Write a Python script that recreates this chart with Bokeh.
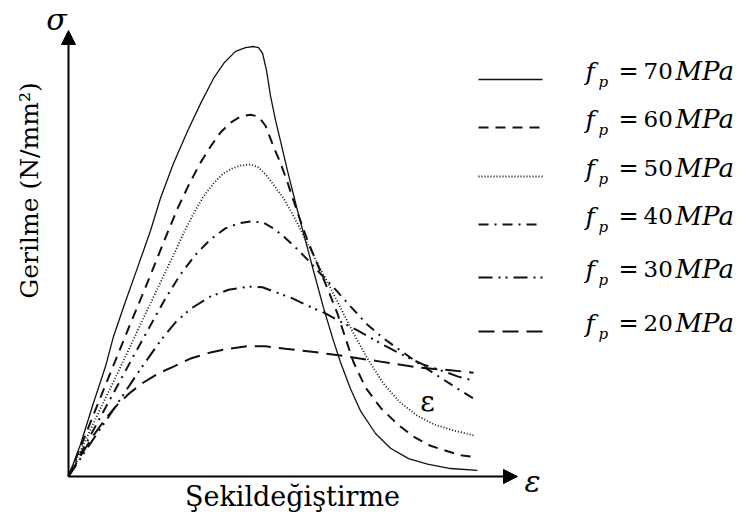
import math
from bokeh.plotting import figure
from bokeh.models import Range1d, Arrow, NormalHead
from bokeh.core.properties import value
from bokeh.embed import file_html
from bokeh.resources import INLINE

# ---------------- data (strain in per mille, stress in MPa) ----------------
strengths = [70, 60, 50, 40, 30, 20]

eps_70 = [0, 0.133, 0.278, 0.411, 0.5, 0.633, 0.767, 0.911, 1.022, 1.167, 1.322, 1.467, 1.611,
          1.733, 1.856, 1.967, 2.056, 2.111, 2.156, 2.2, 2.244, 2.3, 2.367, 2.433, 2.544, 2.633,
          2.722, 2.833, 2.933, 3.022, 3.133, 3.244, 3.411, 3.578, 3.778, 3.989, 4.244, 4.544]
sig_70 = [0, 5.2, 12.0, 17.9, 22.8, 28.5, 34.0, 40.0, 45.3, 51.0, 56.2, 60.7, 64.8,
          67.4, 69.2, 69.8, 70.0, 69.8, 68.9, 66.1, 62.0, 58.0, 53.9, 49.8, 43.3, 38.4,
          33.5, 27.5, 22.6, 18.6, 14.3, 10.7, 7.0, 4.6, 2.9, 2.0, 1.3, 1.0]

eps_60 = [0, 0.189, 0.356, 0.522, 0.689, 0.822, 0.944, 1.078, 1.211, 1.344, 1.467, 1.578, 1.689,
          1.8, 1.911, 2.022, 2.111, 2.189, 2.278, 2.356, 2.433, 2.544, 2.656, 2.767, 2.878,
          2.989, 3.078, 3.167, 3.3, 3.467, 3.656, 3.833, 4.022, 4.211, 4.378, 4.544]
sig_60 = [0, 6.8, 12.9, 18.9, 24.9, 29.6, 34.0, 38.9, 43.6, 47.7, 51.1, 53.7, 56.0,
          57.6, 58.6, 58.9, 58.6, 57.1, 53.7, 51.0, 47.9, 43.0, 38.4, 34.5, 30.6,
          26.5, 22.5, 18.6, 14.5, 11.2, 8.5, 6.5, 5.0, 4.1, 3.4, 3.1]

eps_50 = [0, 0.189, 0.356, 0.522, 0.689, 0.856, 1.022, 1.156, 1.278, 1.389, 1.5, 1.611, 1.711,
          1.811, 1.911, 2.022, 2.111, 2.189, 2.278, 2.389, 2.467, 2.544, 2.656, 2.767, 2.889,
          3.022, 3.167, 3.322, 3.5, 3.689, 3.878, 4.056, 4.278, 4.5]
sig_50 = [0, 5.9, 11.1, 16.1, 21.3, 26.5, 31.6, 35.7, 39.6, 42.8, 45.6, 47.7, 49.2,
          50.1, 50.6, 50.8, 50.3, 49.2, 47.5, 45.3, 43.3, 41.2, 37.9, 34.7, 31.3,
          27.5, 23.3, 19.2, 15.1, 12.0, 9.9, 8.5, 7.5, 6.7]

eps_40 = [0, 0.244, 0.467, 0.689, 0.911, 1.078, 1.244, 1.411, 1.578, 1.744, 1.889, 2.022, 2.156,
          2.278, 2.389, 2.522, 2.656, 2.8, 2.944, 3.133, 3.322, 3.5, 3.689, 3.911, 4.133,
          4.322, 4.5]
sig_40 = [0, 6.7, 12.7, 18.7, 24.6, 29.0, 32.9, 36.1, 38.6, 40.4, 41.2, 41.5, 41.4,
          40.4, 39.1, 37.3, 35.3, 33.0, 30.8, 27.7, 24.7, 22.5, 20.5, 18.2, 16.1,
          14.3, 12.7]

eps_30 = [0, 0.244, 0.5, 0.767, 1.022, 1.189, 1.356, 1.578, 1.778, 1.989, 2.156, 2.322, 2.489,
          2.656, 2.833, 3.022, 3.211, 3.389, 3.578, 3.767, 3.944, 4.133, 4.322, 4.5]
sig_30 = [0, 5.4, 10.9, 16.8, 22.1, 25.1, 27.3, 29.3, 30.4, 30.9, 30.8, 29.9, 29.0,
          27.8, 26.7, 25.2, 23.8, 22.3, 20.8, 19.4, 18.2, 17.3, 16.3, 15.6]

eps_20 = [0, 0.133, 0.278, 0.411, 0.544, 0.689, 0.833, 1.0, 1.167, 1.356, 1.578, 1.778, 1.989,
          2.189, 2.411, 2.656, 3.022, 3.467, 3.911, 4.244, 4.5]
sig_20 = [0, 3.3, 6.7, 9.4, 11.7, 13.7, 15.3, 16.8, 17.9, 19.2, 20.2, 20.8, 21.2,
          21.2, 20.8, 20.4, 19.7, 18.7, 17.7, 17.3, 16.9]

legend_labels = ["%d" % s for s in strengths]
y_axis_title = "Gerilme (N/mm²)"
x_axis_title = "Şekildeğiştirme"

# ---------------- layout helpers (picture pixel -> data) ----------------
PX_PER_EPS = 90.0
PX_PER_MPA = 430.0 / 70.0
OX, OY = 68.0, 476.0


def X(px):
    return (px - OX) / PX_PER_EPS


def Y(py):
    return (OY - py) / PX_PER_MPA


W, H = 756, 518
p = figure(width=W, height=H, output_backend="svg", toolbar_location=None,
           x_range=Range1d(X(0), X(W)), y_range=Range1d(Y(H), Y(0)),
           x_axis_type=None, y_axis_type=None, min_border=0)
p.outline_line_color = None
p.background_fill_color = "white"
p.border_fill_color = "white"

styles = [
    dict(line_width=1.3, line_dash="solid", line_color="#111111"),
    dict(line_width=2.0, line_dash="10 7", line_color="#111111"),
    dict(line_width=1.8, line_dash="1 2", line_color="#111111"),
    dict(line_width=2.0, line_dash="10 6 2 6", line_color="#111111"),
    dict(line_width=2.0, line_dash="14 6 2 5 2 6", line_color="#111111"),
    dict(line_width=2.0, line_dash="16 8", line_color="#111111"),
]
series = [(eps_70, sig_70), (eps_60, sig_60), (eps_50, sig_50),
          (eps_40, sig_40), (eps_30, sig_30), (eps_20, sig_20)]

for (ex, sy), st in zip(series, styles):
    p.line(ex, sy, **st)

# ---------------- axes with arrows ----------------
p.add_layout(Arrow(end=NormalHead(size=14, fill_color="black", line_color="black"),
                   x_start=0, y_start=0, x_end=0, y_end=Y(30),
                   line_width=2, line_color="black"))
p.add_layout(Arrow(end=NormalHead(size=14, fill_color="black", line_color="black"),
                   x_start=0, y_start=0, x_end=X(517), y_end=0,
                   line_width=2, line_color="black"))

SERIF = "DejaVu Serif"


def put(px, py, txt, size, italic=False, align="center", angle=0.0):
    p.text(x=[X(px)], y=[Y(py)], text=[txt], angle=angle,
           text_font=value(SERIF), text_font_style="italic" if italic else "normal",
           text_font_size=size, text_align=align, text_baseline="middle",
           text_color="black")


put(56, 19, "σ", "30px", italic=True)
put(532, 481, "ε", "30px", italic=True)
put(427, 401, "ε", "28px")
put(292, 496, x_axis_title, "27px")
put(29, 190, y_axis_title, "25px", angle=math.pi / 2)

# ---------------- legend ----------------
row_y = [79, 127, 176, 224, 277, 331]
for st, ry in zip(styles, row_y):
    p.line([X(478), X(542)], [Y(ry), Y(ry)], **st)

n = len(row_y)
p.text(x=[X(585)] * n, y=[Y(r - 8) for r in row_y], text=["f"] * n,
       text_font=value(SERIF), text_font_style="italic", text_font_size="25px",
       text_baseline="middle", text_align="left", text_color="black")
p.text(x=[X(598)] * n, y=[Y(r + 2) for r in row_y], text=["p"] * n,
       text_font=value(SERIF), text_font_style="italic", text_font_size="15px",
       text_baseline="middle", text_align="left", text_color="black")
p.text(x=[X(628)] * n, y=[Y(r - 9) for r in row_y], text=["="] * n,
       text_font=value(SERIF), text_font_size="24px",
       text_baseline="middle", text_align="center", text_color="black")
p.text(x=[X(643)] * n, y=[Y(r - 9) for r in row_y], text=legend_labels,
       text_font=value(SERIF), text_font_size="23px",
       text_baseline="middle", text_align="left", text_color="black")
p.text(x=[X(675)] * n, y=[Y(r - 9) for r in row_y], text=["MPa"] * n,
       text_font=value(SERIF), text_font_style="italic", text_font_size="26px",
       text_baseline="middle", text_align="left", text_color="black")

open("out.html", "w").write(file_html(p, INLINE))
